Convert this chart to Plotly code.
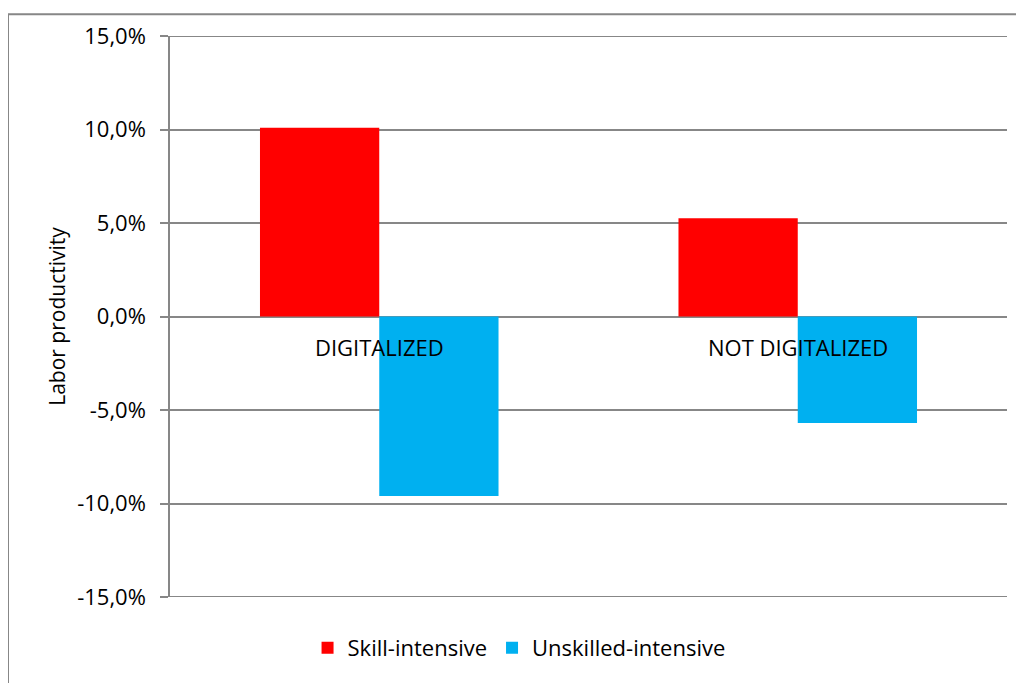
import plotly.graph_objects as go

categories = ["DIGITALIZED", "NOT DIGITALIZED"]
skill_intensive = [0.101, 0.0525]
unskilled_intensive = [-0.096, -0.057]
y_tick_values = [-0.15, -0.10, -0.05, 0.0, 0.05, 0.10, 0.15]
y_title = "Labor productivity"

y_tick_text = [f"{v * 100:.1f}%".replace(".", ",") for v in y_tick_values]

FONT = "Open Sans"
GRID = "#878787"
FS = 22

W, H = 1016, 675
L, R, T, B = 162, 17, 22, 86
PW, PH = W - L - R, H - T - B

fig = go.Figure()
fig.add_trace(go.Bar(x=categories, y=skill_intensive, name="Skill-intensive",
                     marker=dict(color="#FF0000", line=dict(width=0))))
fig.add_trace(go.Bar(x=categories, y=unskilled_intensive, name="Unskilled-intensive",
                     marker=dict(color="#00B0F0", line=dict(width=0))))

for c in categories:
    fig.add_annotation(x=c, y=0, xref="x", yref="y", text=c, showarrow=False,
                       yanchor="middle", yshift=-30,
                       font=dict(family=FONT, size=FS, color="#000000"))

# gridlines at the two ends of the value range (plotly omits them at the edges)
for v in (y_tick_values[0], y_tick_values[-1]):
    fig.add_shape(type="line", xref="paper", yref="y", x0=0, x1=1, y0=v, y1=v,
                  line=dict(color=GRID, width=2), layer="above")

# chart border (Excel chart area)
fig.add_shape(type="rect", xref="paper", yref="paper",
              x0=(0 - L) / PW, x1=(W + 20 - L) / PW,
              y0=-(B + 20) / PH, y1=(PH + T - 0) / PH,
              line=dict(color="#878787", width=2), layer="below")

fig.update_layout(
    width=W, height=H,
    margin=dict(l=L, r=R, t=T, b=B),
    paper_bgcolor="white", plot_bgcolor="white",
    barmode="group", bargap=0.43, bargroupgap=0,
    font=dict(family=FONT, size=FS, color="#000000"),
    xaxis=dict(showticklabels=False, showgrid=False, zeroline=False, showline=False,
               ticks=""),
    yaxis=dict(range=[-0.15, 0.15], tickvals=y_tick_values, ticktext=y_tick_text,
               showgrid=True, gridcolor=GRID, gridwidth=1.5,
               zeroline=True, zerolinecolor=GRID, zerolinewidth=1.5,
               showline=True, linecolor=GRID, linewidth=1.5,
               ticks="outside", ticklen=8, tickcolor=GRID, tickwidth=1.5,
               ticklabelstandoff=10,
               title=dict(text=y_title, font=dict(family=FONT, size=21), standoff=6),
               tickfont=dict(family=FONT, size=FS)),
    legend=dict(orientation="h", xref="container", yref="container",
                x=0.503, y=1 - 640 / H, xanchor="center", yanchor="middle",
                font=dict(family=FONT, size=FS), itemsizing="constant",
                traceorder="normal"),
    showlegend=True,
)

fig.write_html("out.html")
